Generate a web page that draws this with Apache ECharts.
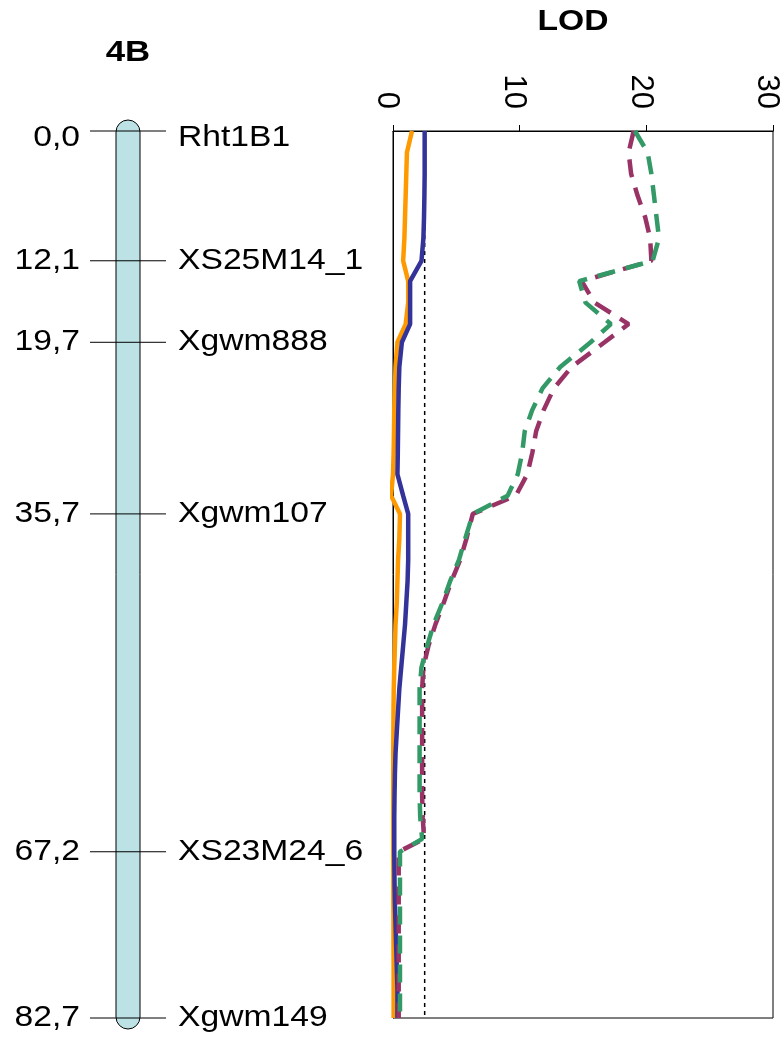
<!DOCTYPE html>
<html>
<head>
<meta charset="utf-8">
<script src="https://cdn.jsdelivr.net/npm/echarts@6/dist/echarts.min.js"></script>
<style>
  html, body { margin: 0; padding: 0; background: #fff; }
  #chart { width: 781px; height: 1040px; }
</style>
</head>
<body>
<div id="chart"></div>
<script>
// ---- data ----
const chromosome = '4B';
const chromLength = 82.7;
const markerPos = [0.0, 12.1, 19.7, 35.7, 67.2, 82.7];
const markerNames = ['Rht1B1', 'XS25M14_1', 'Xgwm888', 'Xgwm107', 'XS23M24_6', 'Xgwm149'];

const lodTicks = [0, 10, 20, 30];
const thresholdLOD = 2.5;

const cM = [0, 2, 4, 6, 8, 10, 12.1, 14, 16, 18, 19.7, 22, 24, 26, 28, 30, 32, 34, 35.7,
            38, 40, 42, 44, 46, 48, 50, 52, 54, 56, 58, 60, 62, 64, 66, 67.2,
            70, 72, 74, 76, 78, 80, 82.7];
const lodOrange = [1.5, 1.1, 1.05, 1.0, 0.95, 0.9, 0.8, 1.2, 1.2, 1.0, 0.35, 0.2, 0.15, 0.1, 0.08, 0.05, 0.0, -0.15, 0.55,
                   0.5, 0.4, 0.35, 0.3, 0.2, 0.15, 0.1, 0.06, 0.04, 0.03, 0.02, 0.02, 0.02, 0.02, 0.02, 0.02,
                   0.03, 0.03, 0.04, 0.04, 0.05, 0.05, 0.05];
const lodBlue = [2.5, 2.5, 2.5, 2.48, 2.45, 2.4, 2.25, 1.35, 1.35, 1.35, 0.7, 0.5, 0.45, 0.42, 0.4, 0.38, 0.35, 0.8, 1.2,
                 1.2, 1.2, 1.15, 1.05, 0.95, 0.8, 0.65, 0.5, 0.4, 0.3, 0.2, 0.15, 0.12, 0.1, 0.1, 0.1,
                 0.12, 0.15, 0.2, 0.25, 0.3, 0.35, 0.35];
const lodMagenta = [19.0, 18.6, 18.8, 19.3, 19.9, 20.3, 20.4, 14.9, 15.9, 18.6, 16.7, 14.1, 12.7, 11.9, 11.3, 11.0, 10.6, 9.7, 6.3,
                    5.8, 5.3, 4.6, 4.0, 3.35, 2.8, 2.4, 2.3, 2.3, 2.3, 2.3, 2.3, 2.3, 2.35, 2.45, 0.45,
                    0.45, 0.45, 0.45, 0.45, 0.45, 0.45, 0.45];
const lodGreen = [19.1, 20.1, 20.4, 20.6, 20.8, 21.0, 20.5, 14.7, 15.2, 17.2, 15.6, 13.2, 11.8, 11.0, 10.4, 10.2, 9.85, 9.05, 6.3,
                  5.7, 5.2, 4.5, 3.9, 3.2, 2.7, 2.25, 2.1, 2.1, 2.1, 2.1, 2.1, 2.1, 2.15, 2.3, 0.55,
                  0.55, 0.55, 0.55, 0.55, 0.55, 0.55, 0.55];

// ---- build ----
const FONT = 'Liberation Sans, Arial, Helvetica, sans-serif';
const SX = 1.16;
const pairs = arr => arr.map((v, i) => [v, cM[i]]);
const fmtPos = p => p.toFixed(1).replace('.', ',');

const chart = echarts.init(document.getElementById('chart'), null, { renderer: 'canvas' });

function lodSeries(name, arr, color, type) {
  return {
    name, type: 'line', xAxisIndex: 0, yAxisIndex: 0,
    data: pairs(arr), symbol: 'none', showSymbol: false, clip: false,
    lineStyle: { color, width: 4.5, type }, itemStyle: { color },
    emphasis: { disabled: true }, silent: true
  };
}

const option = {
  animation: false,
  backgroundColor: '#fff',
  graphic: [
    { type: 'text', x: 128, y: 53, scaleX: SX,
      style: { text: chromosome, font: 'bold 30px ' + FONT, align: 'center', verticalAlign: 'middle', fill: '#000' } },
    { type: 'text', x: 573, y: 22, scaleX: SX,
      style: { text: 'LOD', font: 'bold 29px ' + FONT, align: 'center', verticalAlign: 'middle', fill: '#000' } }
  ],
  grid: [
    { left: 393, top: 131, width: 380, height: 887, show: true, borderColor: '#000', borderWidth: 1,
      backgroundColor: 'transparent', containLabel: false, outerBoundsMode: 'none' },
    { left: 90, top: 131, width: 76, height: 887, containLabel: false, outerBoundsMode: 'none' }
  ],
  xAxis: [
    { gridIndex: 0, type: 'value', position: 'top', min: lodTicks[0], max: lodTicks[lodTicks.length - 1], interval: 10,
      axisLine: { show: true, lineStyle: { color: '#000', width: 1 } },
      axisTick: { show: true, length: 6, lineStyle: { color: '#000', width: 1 } },
      axisLabel: { rotate: -90, fontSize: 31, fontFamily: FONT, color: '#000', margin: 22,
                   verticalAlign: 'top', lineHeight: 12 },
      splitLine: { show: false } },
    { gridIndex: 1, type: 'value', min: 0, max: 1, show: false }
  ],
  yAxis: [
    { gridIndex: 0, type: 'value', inverse: true, min: 0, max: chromLength,
      axisLine: { show: true, lineStyle: { color: '#000', width: 1 } },
      axisTick: { show: false }, axisLabel: { show: false }, splitLine: { show: false } },
    { gridIndex: 1, type: 'value', inverse: true, min: 0, max: chromLength, show: false }
  ],
  series: [
    { type: 'custom', xAxisIndex: 1, yAxisIndex: 1, silent: true,
      data: [[0.5, 0, chromLength]], encode: { x: 0, y: [1, 2] },
      renderItem: (params, api) => {
        const t = api.coord([api.value(0), api.value(1)]);
        const b = api.coord([api.value(0), api.value(2)]);
        return { type: 'rect',
          shape: { x: t[0] - 12, y: t[1] - 11, width: 24, height: b[1] - t[1] + 22, r: 12 },
          style: { fill: '#bde2e5', stroke: '#000', lineWidth: 1 } };
      } },
    { type: 'custom', xAxisIndex: 1, yAxisIndex: 1, silent: true,
      data: markerPos.map((p, i) => [0, p, i]), encode: { x: 0, y: 1 },
      renderItem: (params, api) => {
        const idx = api.value(2);
        const a = api.coord([0, api.value(1)]);
        const b = api.coord([1, api.value(1)]);
        const dy = idx === 0 ? 7 : 0;
        return { type: 'group', children: [
          { type: 'line', shape: { x1: a[0], y1: a[1], x2: b[0], y2: b[1] }, style: { stroke: '#000', lineWidth: 1 } },
          { type: 'text', x: a[0] - 10, y: a[1] + dy, scaleX: SX,
            style: { text: fmtPos(markerPos[idx]), font: '29px ' + FONT, align: 'right', verticalAlign: 'middle', fill: '#000' } },
          { type: 'text', x: b[0] + 12, y: a[1] + dy, scaleX: SX,
            style: { text: markerNames[idx], font: '29px ' + FONT, align: 'left', verticalAlign: 'middle', fill: '#000' } }
        ] };
      } },
    { name: 'threshold', type: 'line', xAxisIndex: 0, yAxisIndex: 0, silent: true,
      data: [[thresholdLOD, 0], [thresholdLOD, chromLength]], symbol: 'none',
      lineStyle: { color: '#000', width: 1.5, type: [4, 4] } },
    lodSeries('orange', lodOrange, '#ff9900', 'solid'),
    lodSeries('blue', lodBlue, '#333399', 'solid'),
    lodSeries('magenta', lodMagenta, '#993366', [18, 11]),
    lodSeries('green', lodGreen, '#339966', [18, 11])
  ]
};
chart.setOption(option);
</script>
</body>
</html>
